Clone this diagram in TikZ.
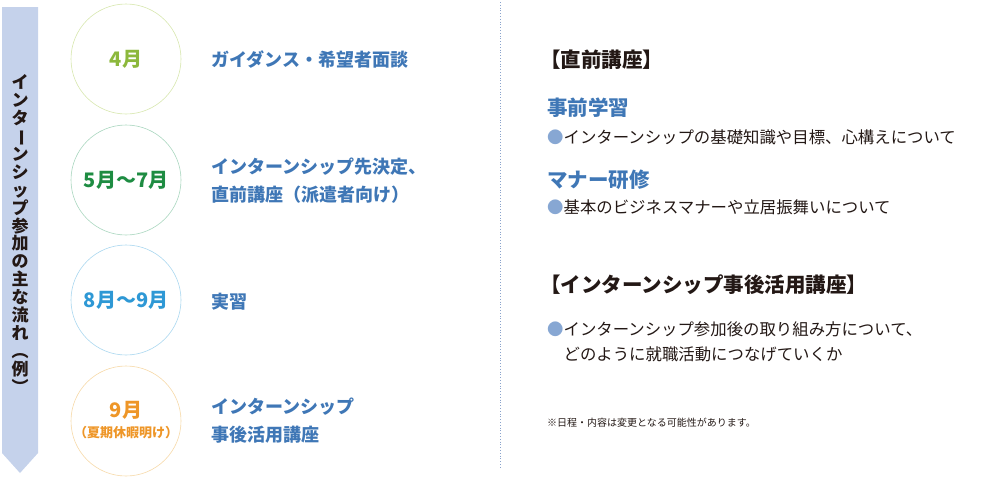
\documentclass[tikz,border=0pt]{standalone}
\usepackage{fontspec}
\setmainfont{Noto Sans CJK JP}
\usetikzlibrary{positioning}

\definecolor{bandblue}{HTML}{C5D2EB}
\definecolor{inkdark}{HTML}{231815}
\definecolor{stepblue}{HTML}{3F77B6}
\definecolor{dotblue}{HTML}{8AA3CC}
\definecolor{bulletblue}{HTML}{87A7D3}
\definecolor{aprline}{HTML}{D7E7AE}
\definecolor{aprtext}{HTML}{8CB83C}
\definecolor{mayline}{HTML}{A9D6BF}
\definecolor{maytext}{HTML}{1E8C42}
\definecolor{augline}{HTML}{AAD7EF}
\definecolor{augtext}{HTML}{2E98D5}
\definecolor{sepline}{HTML}{F6D9A8}
\definecolor{septext}{HTML}{EE9628}

\tikzset{
  monthcircle/.style={circle, draw, line width=0.6pt, minimum size=110pt, inner sep=0pt},
  monthtext/.style={font=\fontsize{20}{20}\selectfont\bfseries},
  steptext/.style={anchor=west, align=left, text=stepblue, inner sep=0pt,
    font=\fontsize{18}{28}\selectfont\bfseries},
  headtext/.style={anchor=west, inner sep=0pt, text=inkdark,
    font=\fontsize{20.5}{20.5}\selectfont\bfseries},
  subhead/.style={anchor=west, inner sep=0pt, text=stepblue,
    font=\fontsize{20.5}{20.5}\selectfont\bfseries},
  bullettext/.style={anchor=west, align=left, inner sep=0pt, text=inkdark,
    font=\fontsize{16.4}{25}\selectfont},
}

\newcommand{\bulletdot}{{\color{bulletblue}●}}

\begin{document}
\begin{tikzpicture}[x=1pt, y=-1pt]
  \useasboundingbox (0,0) rectangle (1000,480);

  % band on the left
  \fill[bandblue] (2,7) -- (38,7) -- (38,453) -- (20,473) -- (2,453) -- cycle;
  \node[align=center, inner sep=0pt, text=inkdark,
        font=\fontsize{17}{17.9}\selectfont\bfseries] (flow) at (20,234)
    {イ\\ン\\タ\\\rotatebox[origin=c]{-90}{ー}\\ン\\シ\\ッ\\プ\\参\\加\\の\\主\\な\\流\\れ\\︵\\例\\︶};

  % month circles
  \node[monthcircle, draw=aprline] (apr) at (126,59) {};
  \node[monthcircle, draw=mayline] (may) at (126,180) {};
  \node[monthcircle, draw=augline] (aug) at (126,300) {};
  \node[monthcircle, draw=sepline] (sep) at (126,421) {};

  \node[monthtext, text=aprtext] (aprlabel) at (apr) {4月};
  \node[monthtext, text=maytext] (maylabel) at (may) {5月～7月};
  \node[monthtext, text=augtext] (auglabel) at (aug) {8月～9月};
  \node[monthtext, text=septext] (seplabel) at (126,410) {9月};
  \node[text=septext, font=\fontsize{13}{13}\selectfont\bfseries] (sepnote) at (126,433) {（夏期休暇明け）};

  % steps
  \node[steptext] (guide) at (211,60) {ガイダンス・希望者面談};
  \node[steptext] (decide) at (211,181) {インターンシップ先決定、\\直前講座（派遣者向け）};
  \node[steptext] (intern) at (211,302) {実習};
  \node[steptext] (after) at (211,421) {インターンシップ\\事後活用講座};

  % dotted divider
  \coordinate (divtop) at (500,2);
  \coordinate (divbot) at (500,468);
  \draw[dotblue, dotted, line width=0.8pt] (divtop) -- (divbot);

  % right column
  \node[headtext] (prehead) at (540,60) {【直前講座】};
  \node[subhead] (study) at (547,108) {事前学習};
  \node[bullettext] (studyitem) at (547,137) {\bulletdot インターンシップの基礎知識や目標、心構えについて};
  \node[subhead] (manner) at (547,180) {マナー研修};
  \node[bullettext] (manneritem) at (547,207) {\bulletdot 基本のビジネスマナーや立居振舞いについて};

  \node[headtext] (posthead) at (540,285) {【インターンシップ事後活用講座】};
  \node[bullettext] (postitem) at (547,342)
    {\bulletdot インターンシップ参加後の取り組み方について、\\\hspace*{16.4pt}どのように就職活動につなげていくか};

  \node[anchor=west, inner sep=0pt, text=inkdark, font=\fontsize{10}{10}\selectfont] (note) at (547,423)
    {※日程・内容は変更となる可能性があります。};
\end{tikzpicture}
\end{document}
